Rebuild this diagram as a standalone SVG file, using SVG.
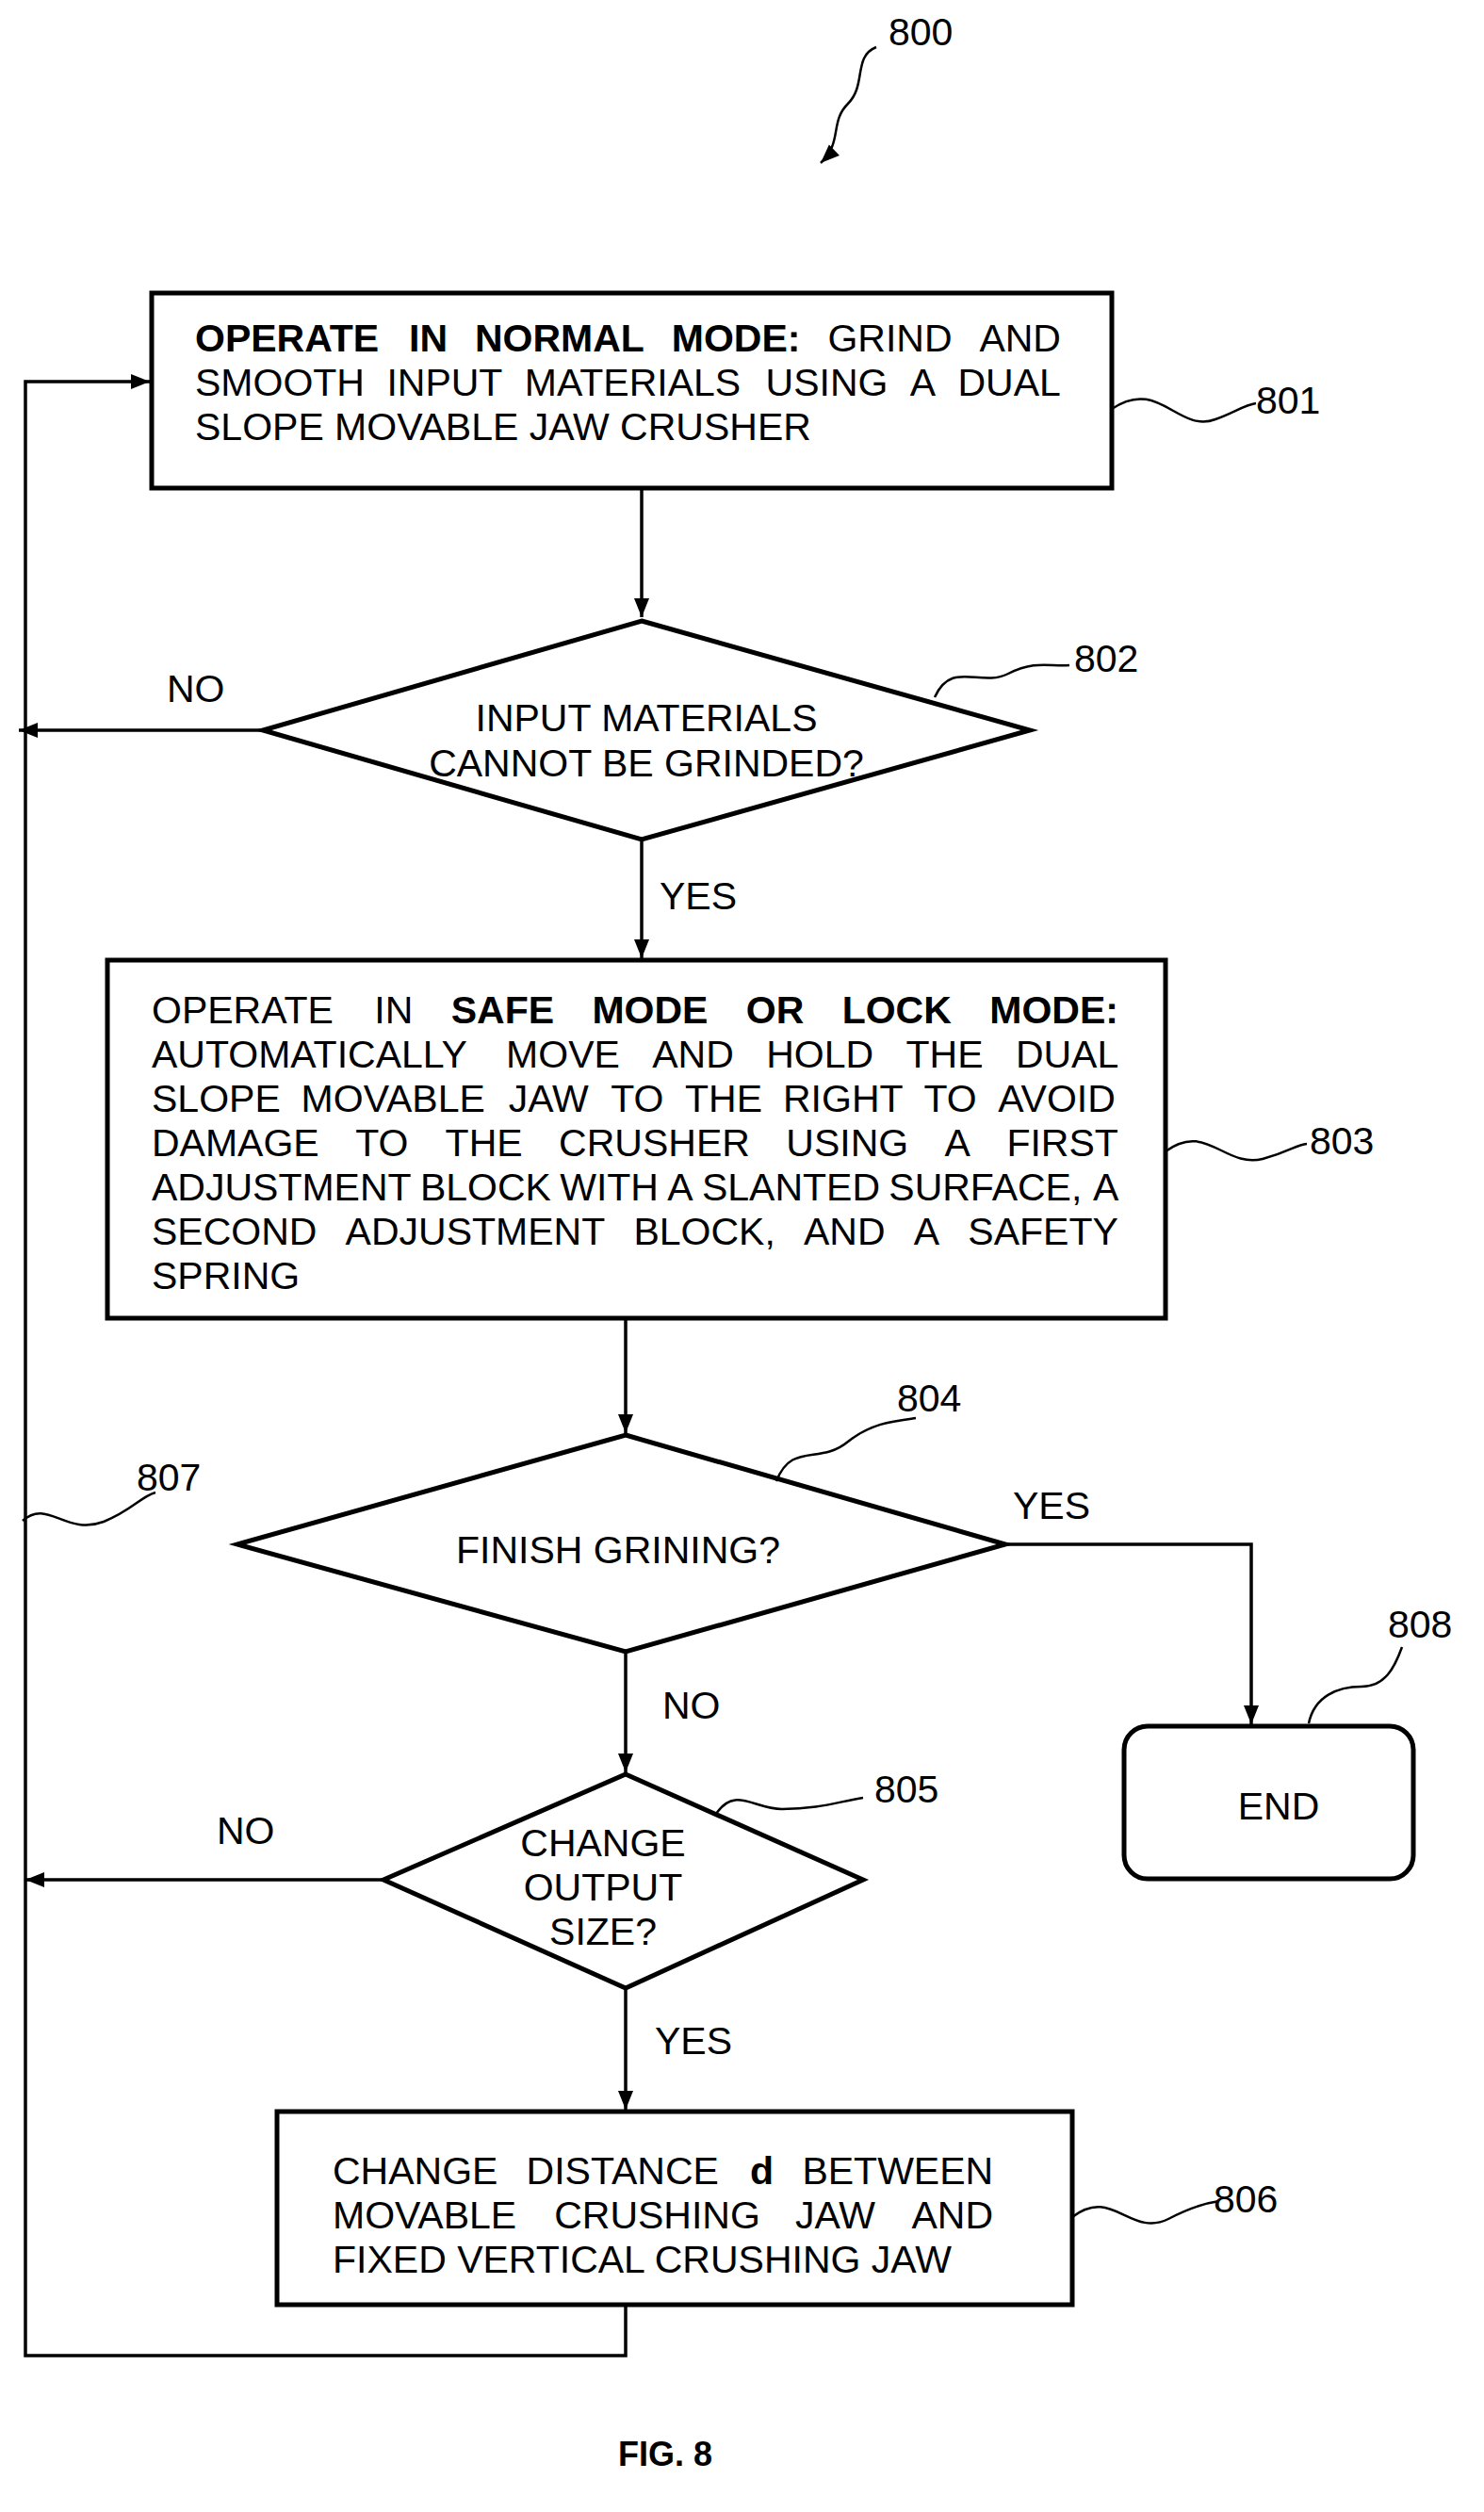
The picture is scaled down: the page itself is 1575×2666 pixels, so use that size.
<svg xmlns="http://www.w3.org/2000/svg" width="1575" height="2666" viewBox="0 0 1575 2666">
<style>
.n{fill:#fff;stroke:#000;stroke-width:5}
.c{fill:none;stroke:#000;stroke-width:3.5}
.s{fill:none;stroke:#000;stroke-width:2.5}
text{font-family:"Liberation Sans",Arial,sans-serif;font-size:41px;fill:#000}
.m{text-anchor:middle}
.b{font-weight:bold}
</style>
<defs>
<marker id="h" viewBox="0 0 10 10" refX="10" refY="5" markerWidth="20" markerHeight="20" markerUnits="userSpaceOnUse" orient="auto"><path d="M0,1L10,5L0,9z"/></marker>
</defs>
<rect width="1575" height="2666" fill="#fff"/>
<g id="connectors">
<path class="c" d="M681,518V655" marker-end="url(#h)"/>
<path class="c" d="M279,775H20" marker-end="url(#h)"/>
<path class="c" d="M681,891V1017" marker-end="url(#h)"/>
<path class="c" d="M664,1399V1521" marker-end="url(#h)"/>
<path class="c" d="M1067,1639H1328V1830" marker-end="url(#h)"/>
<path class="c" d="M664,1753V1881" marker-end="url(#h)"/>
<path class="c" d="M407,1995H27" marker-end="url(#h)"/>
<path class="c" d="M664,2110V2239" marker-end="url(#h)"/>
<path class="c" d="M664,2446V2500H27V405H159" marker-end="url(#h)"/>
<text x="177" y="745">NO</text>
<text x="700" y="965">YES</text>
<text x="1075" y="1612">YES</text>
<text x="703" y="1824">NO</text>
<text x="230" y="1957">NO</text>
<text x="695" y="2180">YES</text>
</g>
<g id="n800">
<path class="s" d="M930,50C905,60 920,90 900,110C880,130 895,150 871,173" marker-end="url(#h)"/>
<text x="943" y="48">800</text>
</g>
<g id="n801">
<rect class="n" x="161" y="311" width="1019" height="207"/>
<text y="373"><tspan class="b" x="207">OPERATE</tspan><tspan class="b" x="434.1">IN</tspan><tspan class="b" x="504">NORMAL</tspan><tspan class="b" x="712.8">MODE:</tspan><tspan x="878.4">GRIND</tspan><tspan x="1039.4">AND</tspan></text>
<text y="420"><tspan x="207">SMOOTH</tspan><tspan x="410.4">INPUT</tspan><tspan x="556.8">MATERIALS</tspan><tspan x="812.6">USING</tspan><tspan x="965.8">A</tspan><tspan x="1016.5">DUAL</tspan></text>
<text x="207" y="467">SLOPE MOVABLE JAW CRUSHER</text>
<path class="s" d="M1180,434C1230,400 1250,460 1290,445C1310,438 1320,430 1333,428"/>
<text x="1333" y="439">801</text>
</g>
<g id="n802">
<path class="n" d="M681,659L1093,775L681,891L279,775Z"/>
<text class="m" x="686" y="776">INPUT MATERIALS</text>
<text class="m" x="686" y="824">CANNOT BE GRINDED?</text>
<path class="s" d="M992,740C1010,700 1040,730 1070,715C1100,700 1115,708 1135,706"/>
<text x="1140" y="713">802</text>
</g>
<g id="n803">
<rect class="n" x="114" y="1019" width="1123" height="380"/>
<text y="1086"><tspan x="161">OPERATE</tspan><tspan x="397.3">IN</tspan><tspan class="b" x="478.7">SAFE</tspan><tspan class="b" x="628.4">MODE</tspan><tspan class="b" x="791.8">OR</tspan><tspan class="b" x="893.7">LOCK</tspan><tspan class="b" x="1050.3">MODE:</tspan></text>
<text y="1133"><tspan x="161">AUTOMATICALLY</tspan><tspan x="537.1">MOVE</tspan><tspan x="692.2">AND</tspan><tspan x="813.2">HOLD</tspan><tspan x="961.5">THE</tspan><tspan x="1077.9">DUAL</tspan></text>
<text y="1180"><tspan x="161">SLOPE</tspan><tspan x="319.6">MOVABLE</tspan><tspan x="539.7">JAW</tspan><tspan x="648.2">TO</tspan><tspan x="727">THE</tspan><tspan x="831">RIGHT</tspan><tspan x="980.5">TO</tspan><tspan x="1059.3">AVOID</tspan></text>
<text y="1227"><tspan x="161">DAMAGE</tspan><tspan x="377.2">TO</tspan><tspan x="472.6">THE</tspan><tspan x="593.1">CRUSHER</tspan><tspan x="834.3">USING</tspan><tspan x="1002.6">A</tspan><tspan x="1068.4">FIRST</tspan></text>
<text y="1274"><tspan x="161">ADJUSTMENT</tspan><tspan x="445.9">BLOCK</tspan><tspan x="594.2">WITH</tspan><tspan x="708.3">A</tspan><tspan x="744.9">SLANTED</tspan><tspan x="943.3">SURFACE,</tspan><tspan x="1159.9">A</tspan></text>
<text y="1321"><tspan x="161">SECOND</tspan><tspan x="366.6">ADJUSTMENT</tspan><tspan x="672.4">BLOCK,</tspan><tspan x="853">AND</tspan><tspan x="969.8">A</tspan><tspan x="1027.3">SAFETY</tspan></text>
<text x="161" y="1368">SPRING</text>
<path class="s" d="M1237,1222C1280,1190 1300,1240 1340,1230C1370,1222 1375,1215 1387,1214"/>
<text x="1390" y="1225">803</text>
</g>
<g id="n804">
<path class="n" d="M664,1523L1067,1639L664,1753L252,1639Z"/>
<text class="m" x="656" y="1659">FINISH GRINING?</text>
<path class="s" d="M824,1572C840,1530 870,1555 900,1530C925,1510 950,1508 972,1505"/>
<text x="952" y="1498">804</text>
</g>
<g id="n805">
<path class="n" d="M664,1883L916,1995L664,2110L407,1995Z"/>
<text class="m" x="640" y="1970">CHANGE</text>
<text class="m" x="640" y="2017">OUTPUT</text>
<text class="m" x="640" y="2064">SIZE?</text>
<path class="s" d="M760,1925C780,1895 800,1920 830,1920C870,1920 890,1912 916,1908"/>
<text x="928" y="1913">805</text>
</g>
<g id="n806">
<rect class="n" x="294" y="2241" width="844" height="205"/>
<text y="2318"><tspan x="353">CHANGE</tspan><tspan x="558.6">DISTANCE</tspan><tspan class="b" x="796.1">d</tspan><tspan x="851.4">BETWEEN</tspan></text>
<text y="2365"><tspan x="353">MOVABLE</tspan><tspan x="588.2">CRUSHING</tspan><tspan x="843.9">JAW</tspan><tspan x="967.5">AND</tspan></text>
<text x="353" y="2412">FIXED VERTICAL CRUSHING JAW</text>
<path class="s" d="M1138,2353C1180,2320 1200,2375 1240,2355C1265,2342 1280,2338 1294,2336"/>
<text x="1288" y="2348">806</text>
</g>
<g id="n807">
<path class="s" d="M24,1614C50,1590 70,1630 110,1615C140,1603 150,1588 165,1584"/>
<text x="145" y="1582">807</text>
</g>
<g id="n808">
<rect class="n" x="1193" y="1832" width="307" height="162" rx="25"/>
<text class="m" x="1357" y="1931">END</text>
<path class="s" d="M1389,1829C1395,1800 1420,1790 1445,1790C1470,1790 1480,1770 1488,1748"/>
<text x="1473" y="1738">808</text>
</g>
<text class="b" x="706" y="2617" style="font-size:36px" text-anchor="middle">FIG. 8</text>
</svg>
